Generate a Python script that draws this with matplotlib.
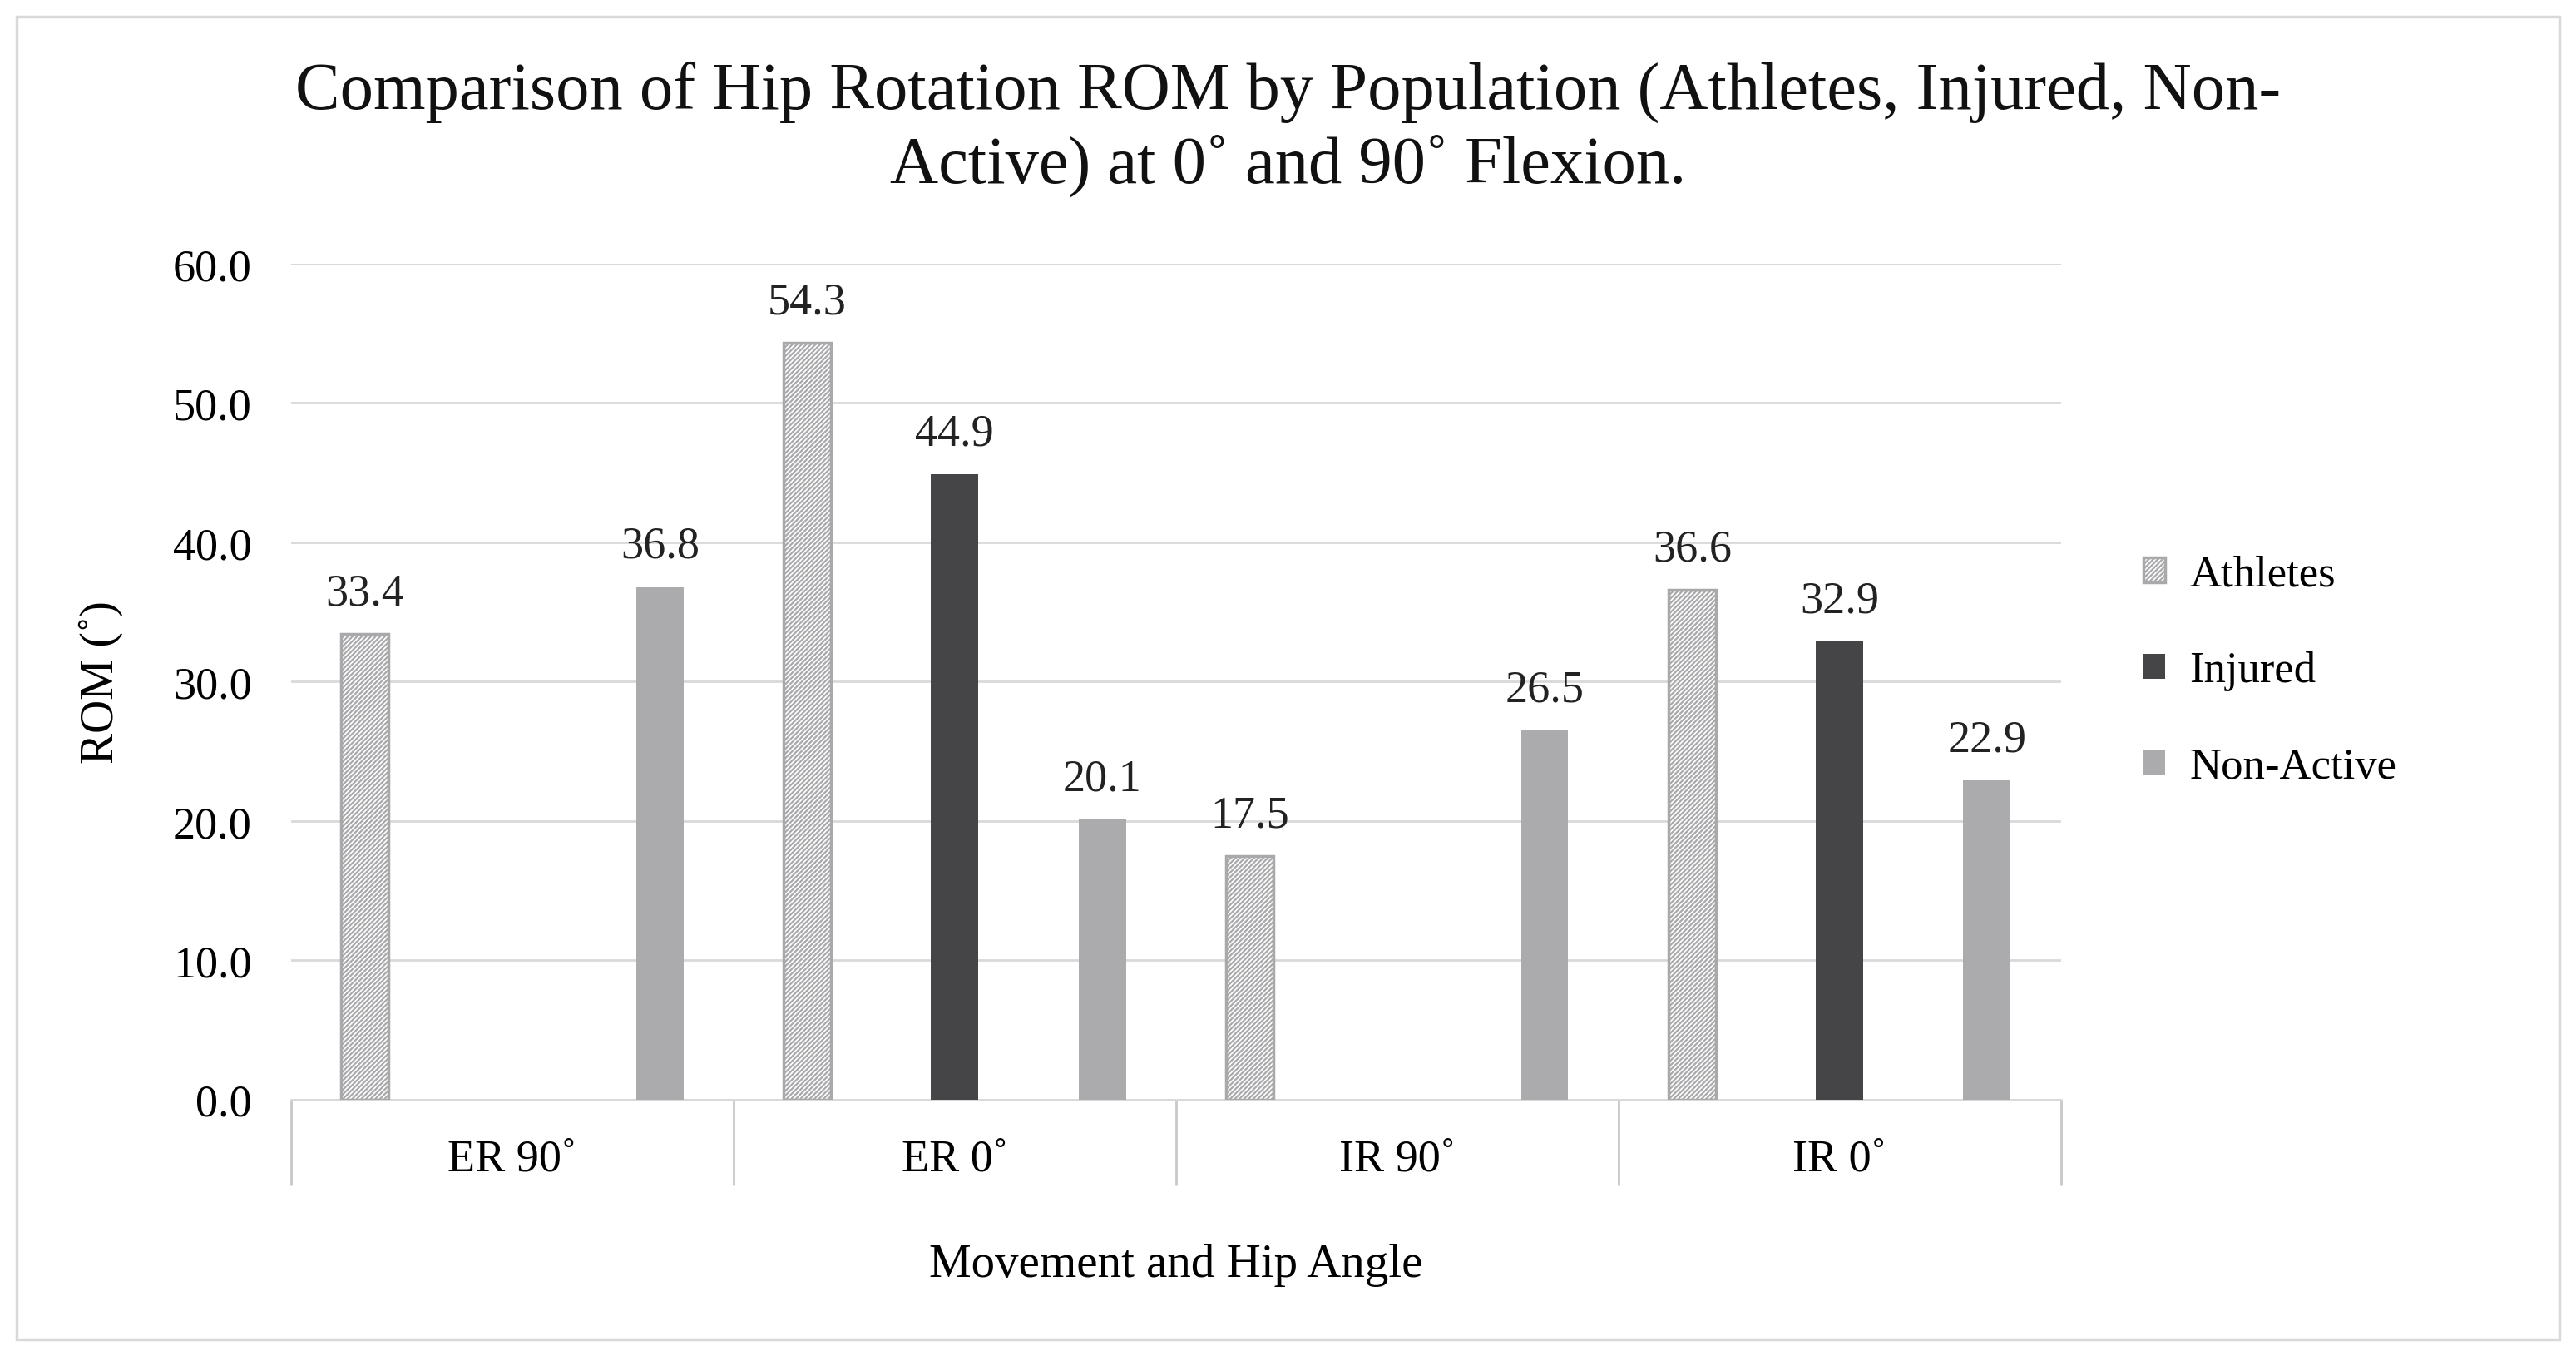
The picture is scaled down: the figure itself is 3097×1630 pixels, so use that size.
import numpy as np
from matplotlib import pyplot as plt
from matplotlib.patches import Rectangle

# data
categories = ["ER 90˚", "ER 0˚", "IR 90˚", "IR 0˚"]
athletes = [33.4, 54.3, 17.5, 36.6]
injured = [np.nan, 44.9, np.nan, 32.9]
non_active = [36.8, 20.1, 26.5, 22.9]
yticks = [0, 10, 20, 30, 40, 50, 60]

plt.rcParams['font.family'] = ['Liberation Serif', 'DejaVu Serif']
plt.rcParams['hatch.linewidth'] = 1.6
plt.rcParams['hatch.color'] = '#b3b3b5'

fig = plt.figure(figsize=(30.97, 16.31), dpi=100)
ax = fig.add_axes([0.113, 0.189, 0.687, 0.616])

x = np.arange(len(categories))
w = 0.107
off = 1 / 3

ax.bar(x - off, athletes, w, color='white', edgecolor='#a9a9ab', linewidth=2.5,
       hatch='//////', label='Athletes', zorder=3)
ax.bar(x, injured, w, color='#454548', label='Injured', zorder=3)
ax.bar(x + off, non_active, w, color='#ababae', label='Non-Active', zorder=3)

for series, dx in [(athletes, -off), (injured, 0), (non_active, off)]:
    for xi, v in zip(x, series):
        if np.isnan(v):
            continue
        ax.annotate(f"{v:.1f}", (xi + dx, v), xytext=(0, 17), textcoords='offset points',
                    ha='center', va='bottom', fontsize=39, color='#222222')

ax.set_ylim(0, 60)
ax.set_xlim(-0.5, 3.5)
ax.set_yticks(yticks)
ax.set_yticklabels([f"{t:.1f}" for t in yticks])
ax.yaxis.grid(True, color='#d9d9d9', linewidth=2, zorder=0)
ax.set_axisbelow(True)

ax.set_xticks(x)
ax.set_xticklabels(categories)
ax.set_xticks(np.arange(-0.5, 4, 1), minor=True)
ax.tick_params(axis='x', which='major', length=0, pad=33, labelsize=39)
ax.tick_params(axis='x', which='minor', length=74, width=2, color='#c8c8c8')
ax.tick_params(axis='y', length=0, pad=34, labelsize=39)

for s in ['top', 'right', 'left']:
    ax.spines[s].set_visible(False)
ax.spines['bottom'].set_color('#d9d9d9')
ax.spines['bottom'].set_linewidth(2)

ax.set_xlabel("Movement and Hip Angle", fontsize=41, va='center')
ax.xaxis.set_label_coords(0.5, -0.197)
ax.set_ylabel("ROM (˚)", fontsize=40)
ax.yaxis.set_label_coords(-0.095, 0.5)

fig.text(0.5, 0.905, "Comparison of Hip Rotation ROM by Population (Athletes, Injured, Non-\nActive) at 0˚ and 90˚ Flexion.",
         ha='center', va='center', fontsize=58, linespacing=1.24, color='#111111')

fig.legend(loc='center left', bbox_to_anchor=(0.832, 0.505), frameon=False, fontsize=38,
           handlelength=0.5, handleheight=0.5, handletextpad=0.55, labelspacing=1.28,
           borderpad=0, borderaxespad=0)

fig.patches.append(Rectangle((20 / 3097, 20 / 1631), 3057 / 3097, 1590 / 1631, transform=fig.transFigure,
                             fill=False, edgecolor='#d9d9d9', linewidth=2.5))

fig.savefig("out.png", dpi=100, facecolor='white')
